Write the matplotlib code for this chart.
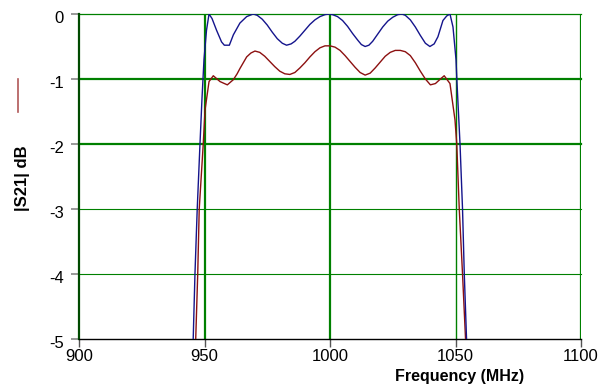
#!/usr/bin/env python3
import matplotlib
matplotlib.use("Agg")
import matplotlib.pyplot as plt
import matplotlib.transforms as mtransforms

plt.rcParams['font.family'] = ['Liberation Sans', 'DejaVu Sans']

# |S21| of two filter responses
freq_blue = [944.5, 945.5, 946.2, 947.1, 948.2, 949.0, 949.8, 950.8, 951.8,
             953.0, 954.8, 956.8, 957.9, 959.9, 961.5, 964.1, 966.8, 969.4,
             971, 973, 975, 977, 979, 981, 982.7, 984.5, 986, 988, 990, 992,
             994, 996, 998, 999.5, 1001, 1003, 1005, 1007, 1009, 1011, 1012.5,
             1014, 1015.5, 1017, 1019, 1021, 1023, 1025, 1027, 1028.6, 1030,
             1032, 1034, 1036, 1038, 1039.8, 1041.5, 1043, 1045, 1046.5,
             1047.8, 1049, 1050.2, 1050.6, 1051.8, 1052.8, 1053.5, 1054.4,
             1055.2]
s21_blue = [-6.5, -5.0, -4.0, -3.0, -2.0, -1.3, -0.7, -0.25, 0.0,
            -0.07, -0.25, -0.43, -0.48, -0.48, -0.32, -0.14, -0.04, 0.0,
            -0.02, -0.08, -0.17, -0.28, -0.38, -0.45, -0.48, -0.46, -0.42,
            -0.34, -0.25, -0.16, -0.09, -0.04, -0.01, 0.0, -0.01, -0.04,
            -0.1, -0.19, -0.3, -0.4, -0.47, -0.5, -0.48, -0.42, -0.31, -0.2,
            -0.11, -0.05, -0.01, 0.0, -0.02, -0.09, -0.2, -0.33, -0.45, -0.5,
            -0.46, -0.35, -0.1, -0.03, 0.0, -0.2, -0.7, -1.06, -2.0, -3.0,
            -4.0, -5.0, -6.0]

freq_red = [945.5, 946.5, 947.3, 947.9, 949.5, 950.2, 951.8, 953.5, 956.2,
            959.1, 961.5, 963, 964.1, 966.8, 968.5, 970.1, 972, 974, 976, 978,
            980, 982, 984, 986, 988, 990, 992, 994, 996, 998, 1000, 1002,
            1004, 1006, 1008, 1010, 1012, 1014, 1016, 1018, 1020, 1022, 1024,
            1026, 1028, 1030, 1032, 1034, 1036, 1038, 1040, 1042, 1044,
            1045.5, 1047.8, 1049.8, 1050.5, 1051.5, 1052.8, 1054.0, 1054.8]
s21_red = [-6.5, -5.0, -4.0, -3.0, -2.0, -1.48, -1.04, -0.95, -1.04,
           -1.09, -1.01, -0.92, -0.84, -0.66, -0.6, -0.57, -0.59, -0.65,
           -0.73, -0.81, -0.88, -0.92, -0.93, -0.9, -0.83, -0.75, -0.66,
           -0.58, -0.52, -0.49, -0.49, -0.51, -0.56, -0.64, -0.73, -0.82,
           -0.9, -0.94, -0.91, -0.83, -0.74, -0.65, -0.59, -0.56, -0.56,
           -0.58, -0.64, -0.75, -0.88, -1.0, -1.09, -1.07, -1.0, -0.95,
           -1.07, -1.63, -2.0, -3.0, -4.0, -5.0, -6.0]

x_ticks = [900, 950, 1000, 1050, 1100]
y_ticks = [0, -1, -2, -3, -4, -5]

# grid line widths as drawn in the reference
vgrid_lw = {950: 1.6, 1000: 1.6, 1050: 1.0, 1100: 1.6}
hgrid_lw = {0: 0.9, -1: 1.6, -2: 1.6, -3: 0.8, -4: 0.8}

fig = plt.figure(figsize=(6.02, 3.86), dpi=100)
ax = fig.add_axes([79 / 602, 47 / 386, 502 / 602, 325 / 386])

green = '#008000'
for x, lw in vgrid_lw.items():
    ax.axvline(x, color=green, lw=lw, zorder=1)
for y, lw in hgrid_lw.items():
    ax.axhline(y, color=green, lw=lw, zorder=1, clip_on=False)

ax.plot(freq_red, s21_red, color='#8c1010', lw=1.0, zorder=3)
ax.plot(freq_blue, s21_blue, color='#14148c', lw=1.0, zorder=3)

ax.set_xlim(900, 1100)
ax.set_ylim(-5, 0)
ax.set_xticks(x_ticks)
ax.set_yticks(y_ticks)
ax.set_xticklabels([str(v) for v in x_ticks])
ax.set_yticklabels([str(v) for v in y_ticks])

for side in ('top', 'right'):
    ax.spines[side].set_visible(False)
ax.spines['left'].set_color('#004a00')
ax.spines['left'].set_linewidth(1.6)
ax.spines['bottom'].set_color('black')
ax.spines['bottom'].set_linewidth(1.0)

ax.tick_params(axis='y', direction='out', length=6, width=1.2, color='#888888',
               labelsize=12, pad=5, labelcolor='black')
ax.tick_params(axis='x', direction='out', length=6, width=1.0, color='#555555',
               labelsize=12, pad=1.5, labelcolor='black')

# the reference's y labels sit a bit below their ticks
shift = mtransforms.ScaledTranslation(0, -2.5 / 72, fig.dpi_scale_trans)
for lab in ax.get_yticklabels():
    lab.set_transform(lab.get_transform() + shift)

fig.text(460 / 602, 1 - 377 / 386, 'Frequency (MHz)', ha='center', va='center',
         fontsize=11.5, fontweight='bold')
fig.text(22 / 602, 1 - 178 / 386, '|S21| dB', ha='center', va='center',
         rotation=90, fontsize=12, fontweight='bold')
# small legend stroke left of the y label
fig.add_artist(plt.Line2D([18 / 602, 18 / 602], [1 - 79 / 386, 1 - 112 / 386],
                          color='#b05858', lw=1.2))

fig.savefig('out.png', dpi=100)
